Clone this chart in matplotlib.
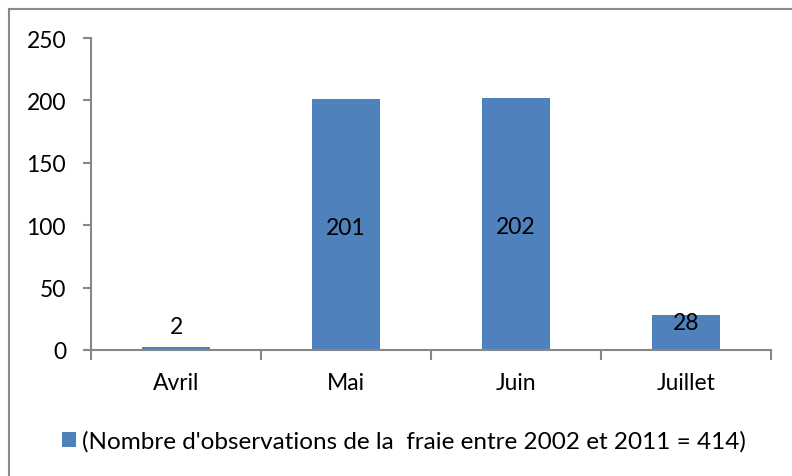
import matplotlib.pyplot as plt
from matplotlib.patches import Rectangle, Patch

months = ["Avril", "Mai", "Juin", "Juillet"]
counts = [2, 201, 202, 28]
legend_label = "(Nombre d'observations de la  fraie entre 2002 et 2011 = 414)"

plt.rcParams['font.family'] = ['Lato', 'DejaVu Sans']
bar_color = "#4F81BD"
axis_gray = "#868686"
fs = 16.5

fig = plt.figure(figsize=(7.92, 4.77), dpi=100)
ax = fig.add_axes([0.1149, 0.2642, 0.8586, 0.654])

x = list(range(len(months)))
ax.bar(x, counts, width=0.4, color=bar_color)

# data labels (roughly like Excel's placement)
for xi, v in zip(x, counts):
    if v > 100:
        y, va = v / 2 - 2, "center"
    elif v < 10:
        y, va = v + 8, "bottom"
    else:
        y, va = v - 6, "center"
    ax.text(xi, y, str(v), ha="center", va=va, fontsize=fs)

ax.set_xlim(-0.5, len(months) - 0.5)
ax.set_ylim(0, 250)
ax.set_yticks(range(0, 251, 50))
ax.set_xticks(x)
ax.set_xticklabels(months)
ax.set_xticks([i - 0.5 for i in range(len(months) + 1)], minor=True)

for side in ["top", "right"]:
    ax.spines[side].set_visible(False)
for side in ["left", "bottom"]:
    ax.spines[side].set_color(axis_gray)
    ax.spines[side].set_linewidth(1.5)

ax.tick_params(axis="y", direction="out", length=6, width=1.5, color=axis_gray,
               labelsize=fs, pad=12)
ax.tick_params(axis="x", which="major", length=0, labelsize=fs, pad=16)
ax.tick_params(axis="x", which="minor", direction="out", length=7, width=1.5,
               color=axis_gray)

handle = Patch(facecolor=bar_color, edgecolor="none")
fig.legend([handle], [legend_label], loc="center", bbox_to_anchor=(0.51, 0.073),
           frameon=False, fontsize=17.5, handlelength=0.6, handleheight=0.6,
           handletextpad=0.25)

# chart-area border (cropped on right and bottom)
fig.patches.append(Rectangle((9 / 792, -0.1), 1.2, 1.1 - 10 / 477,
                             transform=fig.transFigure, fill=False,
                             edgecolor="#8a8a8a", linewidth=1.5))

fig.savefig("out.png", dpi=100)
